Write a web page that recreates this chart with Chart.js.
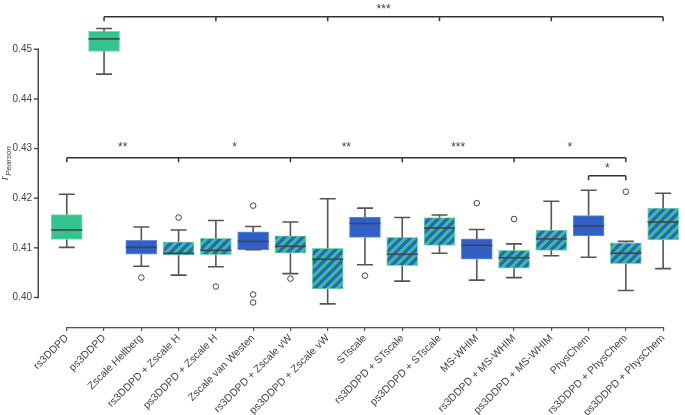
<!DOCTYPE html>
<html>
<head>
<meta charset="utf-8">
<script src="https://cdn.jsdelivr.net/npm/chart.js@4.4.1/dist/chart.umd.min.js"></script>
<style>
html,body{margin:0;padding:0;background:#fff;}
#wrap{width:685px;height:415px;position:relative;}
</style>
</head>
<body>
<div id="wrap"><canvas id="c" width="685" height="415"></canvas></div>
<script>
// ---- data ----
const categories = [
  "rs3DDPD", "ps3DDPD", "Zscale Hellberg", "rs3DDPD + Zscale H", "ps3DDPD + Zscale H",
  "Zscale van Westen", "rs3DDPD + Zscale vW", "ps3DDPD + Zscale vW", "STscale",
  "rs3DDPD + STscale", "ps3DDPD + STscale", "MS-WHIM", "rs3DDPD + MS-WHIM",
  "ps3DDPD + MS-WHIM", "PhysChem", "rs3DDPD + PhysChem", "ps3DDPD + PhysChem"
];
// kind: base = 3DDPD only, single = descriptor only, combo = 3DDPD + descriptor
const kinds = ["base","base","single","combo","combo","single","combo","combo","single",
  "combo","combo","single","combo","combo","single","combo","combo"];
const whiskerLow  = [0.4101, 0.4450, 0.4063, 0.4045, 0.4062, 0.4096, 0.4048, 0.3987, 0.4066,
  0.4033, 0.4089, 0.4035, 0.4040, 0.4084, 0.4081, 0.4014, 0.4058];
const q1          = [0.4117, 0.4496, 0.4087, 0.4085, 0.4086, 0.4096, 0.4089, 0.4017, 0.4121,
  0.4064, 0.4105, 0.4077, 0.4059, 0.4095, 0.4124, 0.4068, 0.4116];
const medians     = [0.4136, 0.4521, 0.4101, 0.4089, 0.4095, 0.4113, 0.4103, 0.4077, 0.4149,
  0.4087, 0.4140, 0.4105, 0.4080, 0.4118, 0.4144, 0.4089, 0.4152];
const q3          = [0.4167, 0.4536, 0.4115, 0.4112, 0.4119, 0.4132, 0.4124, 0.4099, 0.4162,
  0.4121, 0.4161, 0.4118, 0.4095, 0.4136, 0.4165, 0.4110, 0.4180];
const whiskerHigh = [0.4208, 0.4542, 0.4142, 0.4136, 0.4155, 0.4143, 0.4152, 0.4199, 0.4180,
  0.4161, 0.4166, 0.4137, 0.4108, 0.4194, 0.4216, 0.4113, 0.4210];
const outliers    = [[], [], [0.4040], [0.4161], [0.4022], [0.4185, 0.4006, 0.3990], [0.4038], [],
  [0.4044], [], [], [0.4190], [0.4158], [], [], [0.4213], []];
const yTickValues = [0.40, 0.41, 0.42, 0.43, 0.44, 0.45];
// significance brackets: tick indices, height (r value), labels between ticks
const brackets = [
  { ticks: [1, 4, 7, 10, 13, 16], level: 0.45655, labels: ["***"], span: true },
  { ticks: [0, 3, 6, 9, 12, 15], level: 0.42817, labels: ["**", "*", "**", "***", "*"], span: false },
  { ticks: [14, 15], level: 0.42450, labels: ["*"], span: true }
];

// ---- styles ----
const GREEN = "#35C48F", BLUE = "#2F60C6";
function makeHatch() {
  const s = 9;
  const cv = document.createElement("canvas");
  cv.width = s; cv.height = s;
  const g = cv.getContext("2d");
  g.fillStyle = GREEN; g.fillRect(0, 0, s, s);
  g.strokeStyle = BLUE; g.lineWidth = 3.3; g.lineCap = "square";
  for (let k = -1; k <= 1; k++) {
    g.beginPath(); g.moveTo(k * s, s); g.lineTo(k * s + s, 0); g.stroke();
  }
  return document.getElementById("c").getContext("2d").createPattern(cv, "repeat");
}
const hatch = makeHatch();
const fillFor = k => k === "base" ? GREEN : (k === "single" ? BLUE : hatch);
const edgeFor = k => k === "single" ? "#6D8FDC" : "#7BD9B5";

const boxData = categories.map((c, i) => ({ x: i, y: [q1[i], q3[i]] }));
const outData = [];
outliers.forEach((arr, i) => arr.forEach(v => outData.push({ x: i, y: v })));

const FONT = "'Liberation Sans', Arial, sans-serif";
const TXT = "#444";

const boxPlugin = {
  id: "boxExtras",
  afterDraw(chart) {
    const ctx = chart.ctx, xs = chart.scales.x, ys = chart.scales.y;
    const ca = chart.chartArea;
    ctx.save();
    ctx.setLineDash([]);
    ctx.globalAlpha = 1;
    // whiskers
    ctx.strokeStyle = "#555"; ctx.lineWidth = 1.6;
    categories.forEach((c, i) => {
      const x = xs.getPixelForValue(i), hw = 8;
      const yq1 = ys.getPixelForValue(q1[i]), yq3 = ys.getPixelForValue(q3[i]);
      const ylo = ys.getPixelForValue(whiskerLow[i]), yhi = ys.getPixelForValue(whiskerHigh[i]);
      ctx.beginPath();
      ctx.moveTo(x, yq3); ctx.lineTo(x, yhi);
      ctx.moveTo(x - hw, yhi); ctx.lineTo(x + hw, yhi);
      ctx.moveTo(x, yq1); ctx.lineTo(x, ylo);
      ctx.moveTo(x - hw, ylo); ctx.lineTo(x + hw, ylo);
      ctx.stroke();
    });
    // medians
    ctx.strokeStyle = "#444"; ctx.lineWidth = 1.6;
    categories.forEach((c, i) => {
      const x = xs.getPixelForValue(i), hw = 15.5;
      const ym = ys.getPixelForValue(medians[i]);
      ctx.beginPath(); ctx.moveTo(x - hw, ym); ctx.lineTo(x + hw, ym); ctx.stroke();
    });
    // brackets
    ctx.strokeStyle = "#333"; ctx.lineWidth = 1.5;
    ctx.fillStyle = "#444"; ctx.textAlign = "center"; ctx.textBaseline = "middle";
    ctx.font = "12px " + FONT;
    brackets.forEach(b => {
      const y = ys.getPixelForValue(b.level);
      const xsP = b.ticks.map(t => xs.getPixelForValue(t));
      ctx.beginPath();
      ctx.moveTo(xsP[0], y); ctx.lineTo(xsP[xsP.length - 1], y);
      xsP.forEach(px => { ctx.moveTo(px, y); ctx.lineTo(px, y + 4.5); });
      ctx.stroke();
      if (b.span) {
        ctx.fillText(b.labels[0], (xsP[0] + xsP[xsP.length - 1]) / 2, y - 7);
      } else {
        b.labels.forEach((l, k) => ctx.fillText(l, (xsP[k] + xsP[k + 1]) / 2, y - 10));
      }
    });
    // y title r_Pearson
    ctx.save();
    ctx.translate(8, 180);
    ctx.rotate(-Math.PI / 2);
    ctx.textAlign = "left"; ctx.textBaseline = "alphabetic"; ctx.fillStyle = TXT;
    ctx.font = "italic 11px " + FONT;
    ctx.fillText("r", 0, 0);
    const rw = ctx.measureText("r").width;
    ctx.font = "italic 8px " + FONT;
    ctx.fillText("Pearson", rw + 0.5, 2.5);
    ctx.restore();
    // trimmed axes
    ctx.fillStyle = "#555";
    const x0 = xs.getPixelForValue(0), x1 = xs.getPixelForValue(categories.length - 1);
    ctx.fillRect(x0 - 0.6, ca.bottom, x1 - x0 + 1.2, 1.3);
    const yTop = ys.getPixelForValue(yTickValues[yTickValues.length - 1]);
    const yBot = ys.getPixelForValue(yTickValues[0]);
    const ax = 39;
    ctx.fillStyle = "#4a4a4a";
    ctx.fillRect(ax - 1.5, yTop - 0.75, 1.5, yBot - yTop + 1.5);
    yTickValues.forEach(v => {
      const py = ys.getPixelForValue(v);
      ctx.fillRect(ax - 5, py - 0.7, 5, 1.4);
    });
    ctx.restore();
  }
};

const SPACING = 37.5625, FIRST = 67, LEFT = 39, RIGHT = 685;
const PXU = 5040, Y40 = 297, BOTTOM = 327;

new Chart(document.getElementById("c"), {
  type: "bar",
  data: {
    datasets: [
      {
        type: "bar",
        data: boxData,
        backgroundColor: kinds.map(fillFor),
        borderColor: kinds.map(edgeFor),
        borderWidth: 1,
        borderSkipped: false,
        barThickness: 31,
        clip: false,
        order: 2
      },
      {
        type: "scatter",
        data: outData,
        pointStyle: "circle",
        pointRadius: 2.8,
        pointBackgroundColor: "#fff",
        pointBorderColor: "#444",
        pointBorderWidth: 1,
        clip: false,
        order: 1
      }
    ]
  },
  options: {
    responsive: false,
    animation: false,
    events: [],
    layout: { padding: 0 },
    plugins: { legend: { display: false }, tooltip: { enabled: false }, title: { display: false } },
    scales: {
      x: {
        type: "linear",
        offset: false,
        min: (LEFT - FIRST) / SPACING,
        max: (RIGHT - FIRST) / SPACING,
        afterBuildTicks: s => { s.ticks = categories.map((c, i) => ({ value: i })); },
        afterFit: s => { s.height = 415 - BOTTOM; s.paddingLeft = 0; s.paddingRight = 0; },
        ticks: {
          autoSkip: false, minRotation: 45, maxRotation: 45, padding: 1,
          color: TXT, font: { family: FONT, size: 10.5 },
          callback: v => categories[v]
        },
        grid: { display: true, offset: false, drawOnChartArea: false, drawTicks: true, tickLength: 4, color: "#555", lineWidth: 1.2 },
        border: { display: false }
      },
      y: {
        type: "linear",
        min: 0.40 - (BOTTOM - Y40) / PXU,
        max: 0.40 + Y40 / PXU,
        afterBuildTicks: s => { s.ticks = yTickValues.map(v => ({ value: v })); },
        afterFit: s => { s.width = LEFT; s.paddingTop = 0; s.paddingBottom = 0; },
        ticks: {
          color: TXT, font: { family: FONT, size: 10 }, padding: 7,
          callback: v => v.toFixed(2)
        },
        grid: { display: false, drawTicks: false },
        border: { display: false }
      }
    }
  },
  plugins: [boxPlugin]
});
</script>
</body>
</html>
